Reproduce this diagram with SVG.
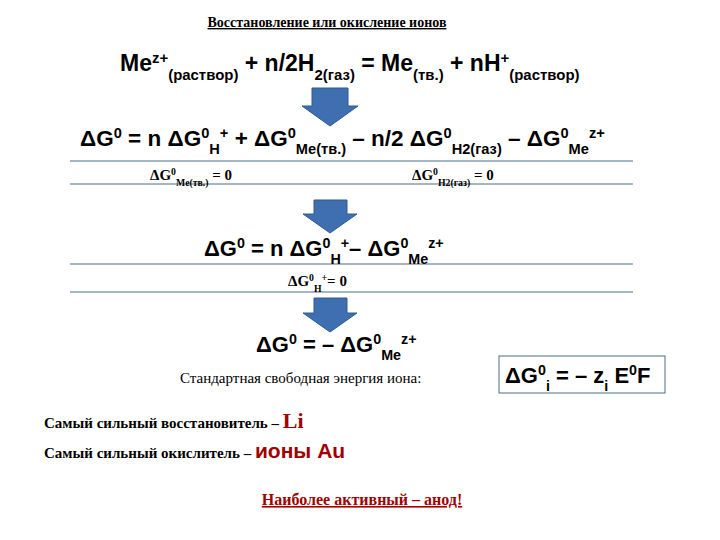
<svg xmlns="http://www.w3.org/2000/svg" width="720" height="540" viewBox="0 0 720 540">
<style>
text{font-family:"Liberation Serif","Times New Roman",serif;font-weight:bold;fill:#000}
.eq{font-family:"Liberation Sans",Arial,sans-serif}
.sub{font-size:65%}
.red{fill:#a00000}
.ln{stroke:#4a6f8a;stroke-width:1}
.arr{fill:#3f6fb0;stroke:#2f5a94;stroke-width:1}
</style>
<rect width="720" height="540" fill="#fff"/>
<g id="title"><text x="327" y="27" font-size="14" text-anchor="middle" text-decoration="underline">Восстановление или окисление ионов</text></g>
<g id="reaction"><text class="eq" x="120" y="71" font-size="23">Me<tspan class="sub" baseline-shift="super">z+</tspan><tspan class="sub" baseline-shift="sub">(раствор)</tspan> + n/2H<tspan class="sub" baseline-shift="sub">2(газ)</tspan> = Me<tspan class="sub" baseline-shift="sub">(тв.)</tspan> + nH<tspan class="sub" baseline-shift="super">+</tspan><tspan class="sub" baseline-shift="sub">(раствор)</tspan></text></g>
<g id="connectors">
<path class="arr" d="M312,88 H348 V106 H358 L330,126 L302,106 H312 Z"/>
<path class="arr" d="M314,200 H347 V214 H357 L330,233 L303,214 H314 Z"/>
<path class="arr" d="M314,298 H347 V313 H357 L330,332 L303,313 H314 Z"/>
<line class="ln" x1="70" y1="161" x2="633" y2="161"/>
<line class="ln" x1="70" y1="184" x2="633" y2="184"/>
<line class="ln" x1="70" y1="264" x2="633" y2="264"/>
<line class="ln" x1="70" y1="292" x2="633" y2="292"/>
</g>
<g id="eq1"><text class="eq" x="80" y="146" font-size="22.5">ΔG<tspan class="sub" baseline-shift="super">0</tspan> = n ΔG<tspan class="sub" baseline-shift="super">0</tspan><tspan class="sub" baseline-shift="sub">Н</tspan><tspan class="sub" baseline-shift="super">+</tspan> + ΔG<tspan class="sub" baseline-shift="super">0</tspan><tspan class="sub" baseline-shift="sub">Me(тв.)</tspan> – n/2 ΔG<tspan class="sub" baseline-shift="super">0</tspan><tspan class="sub" baseline-shift="sub">Н2(газ)</tspan> – ΔG<tspan class="sub" baseline-shift="super">0</tspan><tspan class="sub" baseline-shift="sub">Me</tspan><tspan class="sub" baseline-shift="super">z+</tspan></text></g>
<g id="eq1a"><text x="150" y="180" font-size="15">ΔG<tspan class="sub" baseline-shift="super">0</tspan><tspan class="sub" baseline-shift="sub">Me(тв.)</tspan> = 0</text></g>
<g id="eq1b"><text x="412" y="180" font-size="15">ΔG<tspan class="sub" baseline-shift="super">0</tspan><tspan class="sub" baseline-shift="sub">Н2(газ)</tspan> = 0</text></g>
<g id="eq2"><text class="eq" x="204" y="256" font-size="22">ΔG<tspan class="sub" baseline-shift="super">0</tspan> = n ΔG<tspan class="sub" baseline-shift="super">0</tspan><tspan class="sub" baseline-shift="sub">Н</tspan><tspan class="sub" baseline-shift="super">+</tspan>– ΔG<tspan class="sub" baseline-shift="super">0</tspan><tspan class="sub" baseline-shift="sub">Me</tspan><tspan class="sub" baseline-shift="super">z+</tspan></text></g>
<g id="eq2a"><text x="288" y="286" font-size="15">ΔG<tspan class="sub" baseline-shift="super">0</tspan><tspan class="sub" baseline-shift="sub">Н</tspan><tspan class="sub" baseline-shift="super">+</tspan>= 0</text></g>
<g id="eq3"><text class="eq" x="256" y="352" font-size="22">ΔG<tspan class="sub" baseline-shift="super">0</tspan> = – ΔG<tspan class="sub" baseline-shift="super">0</tspan><tspan class="sub" baseline-shift="sub">Me</tspan><tspan class="sub" baseline-shift="super">z+</tspan></text></g>
<g id="std"><text x="180" y="383" font-size="15" style="font-weight:normal">Стандартная свободная энергия иона:</text></g>
<g id="formula"><rect x="499" y="356" width="166" height="37" fill="#fff" stroke="#4a6f8a"/><text class="eq" x="505" y="383" font-size="22">ΔG<tspan class="sub" baseline-shift="super">0</tspan><tspan class="sub" baseline-shift="sub">i</tspan> = – z<tspan class="sub" baseline-shift="sub">i</tspan> E<tspan class="sub" baseline-shift="super">0</tspan>F</text></g>
<g id="reducer"><text x="44" y="428" font-size="15">Самый сильный восстановитель – <tspan class="red" font-size="22">Li</tspan></text></g>
<g id="oxidizer"><text x="44" y="458" font-size="15">Самый сильный окислитель – <tspan class="eq red" font-size="21">ионы Au</tspan></text></g>
<g id="anode"><text class="red" x="362" y="505" font-size="16" text-anchor="middle" text-decoration="underline">Наиболее активный – анод!</text></g>
</svg>
